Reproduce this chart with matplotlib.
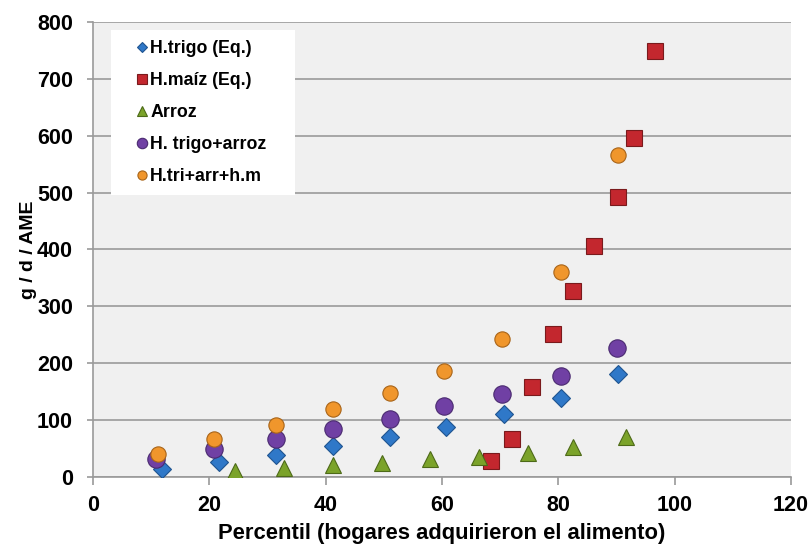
import numpy as np
import matplotlib
matplotlib.use("Agg")
import matplotlib.pyplot as plt

plt.rcParams['font.family'] = ['Liberation Sans', 'DejaVu Sans']
plt.rcParams['font.weight'] = 'bold'

# data
trigo_x = [11.8, 21.6, 31.4, 41.2, 51.0, 60.6, 70.6, 80.5, 90.2]
trigo_y = [14, 26, 39, 55, 70, 88, 111, 139, 181]

maiz_x = [68.5, 72.0, 75.5, 79.0, 82.5, 86.1, 90.2, 93.0, 96.6]
maiz_y = [28, 66, 159, 251, 327, 406, 492, 596, 749]

arroz_x = [24.4, 32.8, 41.2, 49.7, 58.0, 66.4, 74.7, 82.5, 91.6]
arroz_y = [11, 15, 21, 25, 31, 36, 42, 52, 70]

tri_arr_x = [10.8, 20.8, 31.4, 41.2, 51.0, 60.3, 70.3, 80.5, 90.1]
tri_arr_y = [31, 49, 66, 84, 102, 124, 146, 178, 226]

todo_x = [11.1, 20.8, 31.4, 41.2, 51.0, 60.4, 70.3, 80.4, 90.2]
todo_y = [40, 66, 91, 120, 148, 187, 243, 361, 566]

series = [
    (trigo_x, trigo_y, 'H.trigo (Eq.)', 'D', '#2f78c8', '#1f5490', 9),
    (maiz_x, maiz_y, 'H.maíz (Eq.)', 's', '#c3272e', '#7a1a1c', 11),
    (arroz_x, arroz_y, 'Arroz', '^', '#7ba32a', '#4d6a18', 11.5),
    (tri_arr_x, tri_arr_y, 'H. trigo+arroz', 'o', '#7040a4', '#4a2a70', 12.5),
    (todo_x, todo_y, 'H.tri+arr+h.m', 'o', '#f0962c', '#a86418', 11),
]

fig = plt.figure(figsize=(8.09, 5.46), dpi=100)
ax = fig.add_axes([0.115, 0.1264, 0.8628, 0.8333])
ax.set_facecolor('#f0f0f0')

for xs, ys, lab, mk, fc, ec, ms in series:
    ax.plot(xs, ys, linestyle='none', marker=mk, markersize=ms,
            markerfacecolor=fc, markeredgecolor=ec, markeredgewidth=0.8,
            label=lab, zorder=3)

ax.set_xlim(0, 120)
ax.set_ylim(0, 800)
ax.set_xticks(np.arange(0, 121, 20))
ax.set_yticks(np.arange(0, 801, 100))
ax.yaxis.grid(True, color='#9a9a9a', linewidth=1.2)
ax.set_axisbelow(True)
for s in ['top', 'right']:
    ax.spines[s].set_visible(False)
for s in ['left', 'bottom']:
    ax.spines[s].set_color('#9a9a9a')
    ax.spines[s].set_linewidth(1.2)
ax.tick_params(axis='x', direction='out', length=6, color='#9a9a9a', width=1.2,
               labelsize=15.5, pad=7)
ax.tick_params(axis='y', direction='out', length=4, color='#9a9a9a', width=1.2,
               labelsize=15.5, pad=10.4)

ax.set_xlabel('Percentil (hogares adquirieron el alimento)', fontsize=15.8,
              fontweight='bold', labelpad=5)
ax.set_ylabel('g / d / AME', fontsize=14, fontweight='bold', labelpad=0)

# legend box: fixed width like the original
leg = ax.legend(loc='upper left', bbox_to_anchor=(0.0258, 0.982, 0.2636, 0.0),
                mode='expand', borderaxespad=0, frameon=True,
                fancybox=False, edgecolor='white', facecolor='white',
                framealpha=1, markerscale=0.6, handlelength=2.4,
                handletextpad=-0.75, labelspacing=0.85, borderpad=0.55,
                prop={'weight': 'bold', 'size': 12.8})
leg.get_frame().set_linewidth(0)

fig.savefig('out.png', dpi=100)
